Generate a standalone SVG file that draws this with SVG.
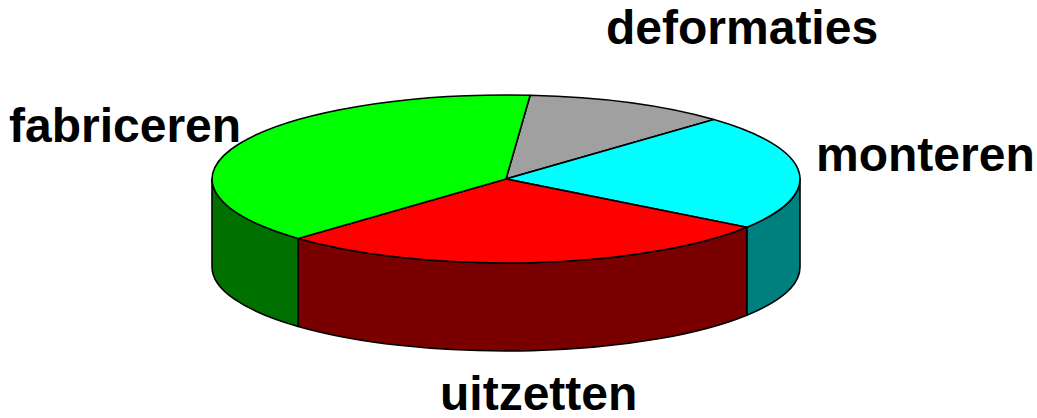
<svg xmlns="http://www.w3.org/2000/svg" width="1037" height="418" viewBox="0 0 1037 418">
<style>
.s{stroke:#000;stroke-width:1.6;stroke-linejoin:round}
.lbl{font-family:"Liberation Sans",Arial,sans-serif;font-weight:bold;font-size:48px;fill:#000}
</style>
<rect width="1037" height="418" fill="#fff"/>
<g id="sides">
<path class="s" fill="#007f7f" d="M800,179 A294,84 0 0 1 746.8,227.2 L746.8,315.2 A294,84 0 0 0 800,267 Z"/>
<path class="s" fill="#7a0000" d="M746.8,227.2 A294,84 0 0 1 298.1,238.4 L298.1,326.4 A294,84 0 0 0 746.8,315.2 Z"/>
<path class="s" fill="#007000" d="M298.1,238.4 A294,84 0 0 1 212,179 L212,267 A294,84 0 0 0 298.1,326.4 Z"/>
</g>
<g id="slice-deformaties"><path class="s" fill="#a0a0a0" d="M506,179 L530.1,95.3 A294,84 0 0 1 713.9,119.6 Z"/></g>
<g id="slice-monteren"><path class="s" fill="#00ffff" d="M506,179 L713.9,119.6 A294,84 0 0 1 746.8,227.2 Z"/></g>
<g id="slice-uitzetten"><path class="s" fill="#ff0000" d="M506,179 L746.8,227.2 A294,84 0 0 1 298.1,238.4 Z"/></g>
<g id="slice-fabriceren"><path class="s" fill="#00ff00" d="M506,179 L298.1,238.4 A294,84 0 0 1 530.1,95.3 Z"/></g>
<g id="labels">
<text class="lbl" x="606" y="44">deformaties</text>
<text class="lbl" x="9" y="142">fabriceren</text>
<text class="lbl" x="816" y="171">monteren</text>
<text class="lbl" x="440" y="410">uitzetten</text>
</g>
</svg>
